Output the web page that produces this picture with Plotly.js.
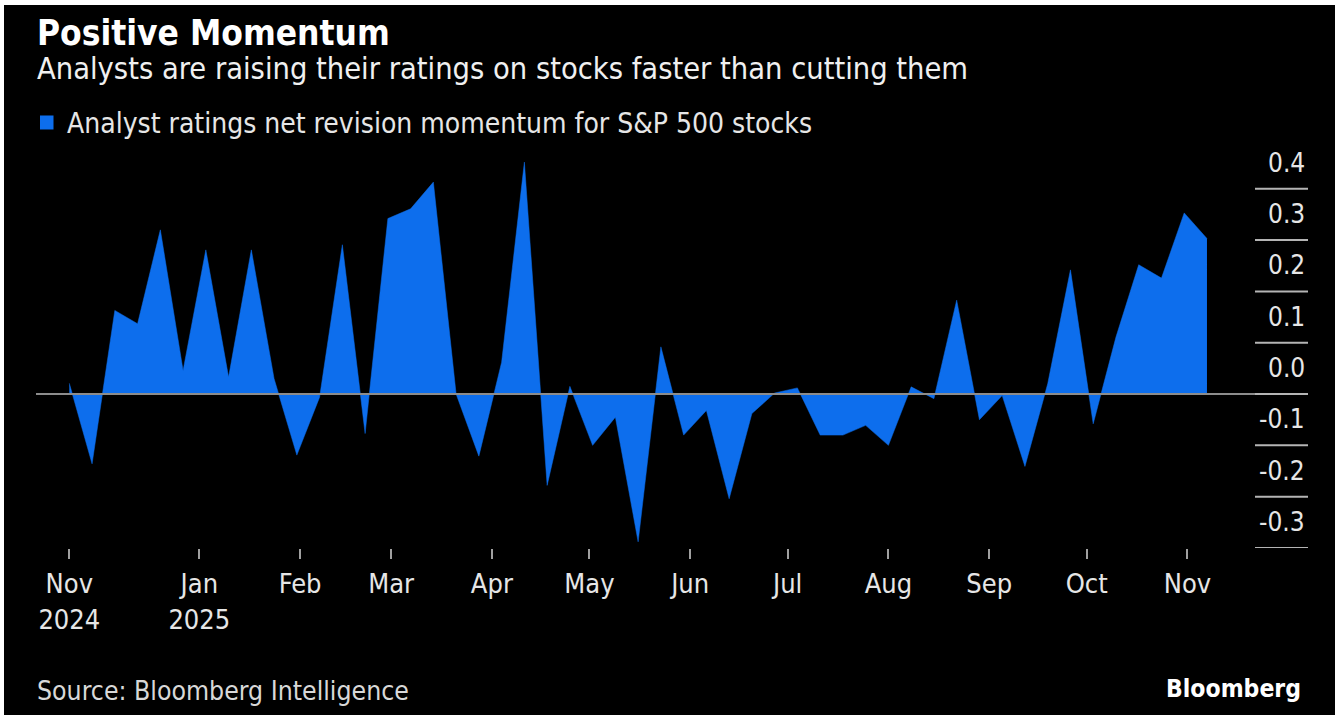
<!DOCTYPE html>
<html>
<head>
<meta charset="utf-8">
<script src="https://cdn.plot.ly/plotly-3.0.1.min.js"></script>
<style>
  html, body { margin: 0; padding: 0; background: #ffffff; overflow: hidden; }
  #chart { position: absolute; left: 4px; top: 5px; width: 1331px; height: 710px; background: #000; }
</style>
</head>
<body>
<div id="chart"></div>
<script>
// ---- Data (weekly) ----
const dates = [
  '2024-11-22','2024-11-29','2024-12-06','2024-12-13','2024-12-20','2024-12-27',
  '2025-01-03','2025-01-10','2025-01-17','2025-01-24','2025-01-31',
  '2025-02-07','2025-02-14','2025-02-21','2025-02-28',
  '2025-03-07','2025-03-14','2025-03-21','2025-03-28',
  '2025-04-04','2025-04-11','2025-04-18','2025-04-25',
  '2025-05-02','2025-05-09','2025-05-16','2025-05-23','2025-05-30',
  '2025-06-06','2025-06-13','2025-06-20','2025-06-27',
  '2025-07-04','2025-07-11','2025-07-18','2025-07-25',
  '2025-08-01','2025-08-08','2025-08-15','2025-08-22','2025-08-29',
  '2025-09-05','2025-09-12','2025-09-19','2025-09-26',
  '2025-10-03','2025-10-10','2025-10-17','2025-10-24','2025-10-31',
  '2025-11-07'
];
const momentum = [
  0.021, -0.136, 0.163, 0.137, 0.320, 0.046,
  0.281, 0.033, 0.281, 0.030, -0.119,
  -0.006, 0.291, -0.077, 0.342,
  0.361, 0.413, 0.000, -0.121,
  0.062, 0.452, -0.178, 0.015,
  -0.100, -0.045, -0.288, 0.092, -0.080,
  -0.032, -0.204, -0.038, 0.002,
  0.012, -0.080, -0.080, -0.061,
  -0.100, 0.014, -0.009, 0.183, -0.050,
  -0.003, -0.141, 0.020, 0.242,
  -0.058, 0.111, 0.252, 0.226, 0.353,
  0.303
];
const xTickVals = ['2024-11-22','2025-01-01','2025-02-01','2025-03-01','2025-04-01','2025-05-01',
                   '2025-06-01','2025-07-01','2025-08-01','2025-09-01','2025-10-01','2025-11-01'];
const xTickText = ['Nov<br>2024','Jan<br>2025','Feb','Mar','Apr','May','Jun','Jul','Aug','Sep','Oct','Nov'];
const yTickVals = [0.4, 0.3, 0.2, 0.1, 0.0, -0.1, -0.2, -0.3];

const titleText = 'Positive Momentum';
const subtitleText = 'Analysts are raising their ratings on stocks faster than cutting them';
const seriesName = 'Analyst ratings net revision momentum for S&P 500 stocks';
const sourceText = 'Source: Bloomberg Intelligence';
const brandText = 'Bloomberg';

// ---- Layout geometry ----
const W = 1331, H = 710;
const M = { l: 32, r: 27, t: 153, b: 167.1 };
const plotW = W - M.l - M.r, plotH = H - M.t - M.b;
const px = x => (x - M.l) / plotW;          // div pixel x -> paper
const py = y => (M.t + plotH - y) / plotH;  // div pixel y -> paper

const FONT = '"DejaVu Sans Condensed", "DejaVu Sans", sans-serif';
const BLUE = 'rgb(13,110,237)';
const TXT = '#e6e6e6';

const trace = {
  type: 'scatter',
  mode: 'lines',
  x: dates,
  y: momentum,
  fill: 'tozeroy',
  fillcolor: BLUE,
  line: { color: BLUE, width: 0.5 },
  name: seriesName,
  showlegend: false,
  hoverinfo: 'x+y'
};

const shapes = [];
// zero line on top of the fill
shapes.push({ type: 'line', xref: 'paper', yref: 'y', x0: 0, x1: 1, y0: 0, y1: 0,
  line: { color: '#8c8c8c', width: 2 }, layer: 'above' });
// short gridlines under the right-side labels
yTickVals.forEach(v => {
  shapes.push({ type: 'line', xref: 'paper', yref: 'y', x0: px(1251), x1: 1, y0: v, y1: v,
    line: { color: '#b4b4b4', width: 2 }, layer: 'above' });
});
// legend swatch
shapes.push({ type: 'rect', xref: 'paper', yref: 'paper',
  x0: px(36), x1: px(49.5), y0: py(124.5), y1: py(110.5),
  fillcolor: BLUE, line: { width: 0 } });

const annotations = [];
yTickVals.forEach(v => {
  annotations.push({ xref: 'paper', yref: 'y', x: px(1303), y: v, xanchor: 'right', yanchor: 'middle',
    yshift: 26, text: v.toFixed(1), showarrow: false, font: { family: FONT, size: 26, color: TXT } });
});
annotations.push({ xref: 'paper', yref: 'paper', x: px(31), y: py(28), xanchor: 'left', yanchor: 'middle',
  text: '<b>' + titleText + '</b>', showarrow: false, font: { family: FONT, size: 35, color: '#ffffff' } });
annotations.push({ xref: 'paper', yref: 'paper', x: px(31), y: py(64), xanchor: 'left', yanchor: 'middle',
  text: subtitleText, showarrow: false, font: { family: FONT, size: 30.5, color: '#f0f0f0' } });
annotations.push({ xref: 'paper', yref: 'paper', x: px(61), y: py(119), xanchor: 'left', yanchor: 'middle',
  text: seriesName.replace('&', '&amp;'), showarrow: false, font: { family: FONT, size: 28, color: TXT } });
annotations.push({ xref: 'paper', yref: 'paper', x: px(31), y: py(685), xanchor: 'left', yanchor: 'middle',
  text: sourceText, showarrow: false, font: { family: FONT, size: 26.4, color: '#d8d8d8' } });
annotations.push({ xref: 'paper', yref: 'paper', x: px(1299), y: py(683), xanchor: 'right', yanchor: 'middle',
  text: '<b>' + brandText + '</b>', showarrow: false, font: { family: FONT, size: 24.5, color: '#ffffff' } });

const layout = {
  width: W, height: H,
  margin: M,
  paper_bgcolor: '#000000',
  plot_bgcolor: '#000000',
  showlegend: false,
  xaxis: {
    type: 'date',
    range: ['2024-11-11 18:00', '2025-12-08 02:00'],
    tickmode: 'array', tickvals: xTickVals, ticktext: xTickText,
    ticks: 'outside', ticklen: 10, tickwidth: 2, tickcolor: '#a0a0a0',
    tickfont: { family: FONT, size: 27, color: TXT },
    ticklabelstandoff: 2,
    showgrid: false, zeroline: false, showline: false,
    fixedrange: true
  },
  yaxis: {
    range: [-0.3, 0.46],
    showticklabels: false, ticks: '', showgrid: false, zeroline: false, showline: false,
    fixedrange: true
  },
  shapes: shapes,
  annotations: annotations
};

Plotly.newPlot('chart', [trace], layout, { displayModeBar: false, staticPlot: true });
</script>
</body>
</html>
